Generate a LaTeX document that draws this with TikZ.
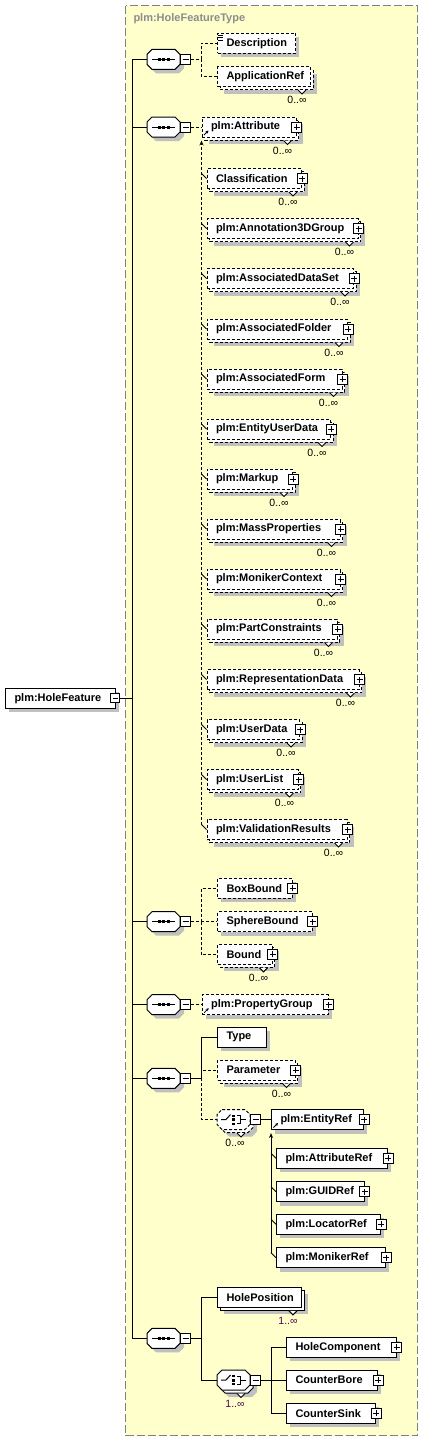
\documentclass[tikz,border=0pt]{standalone}
\usepackage{fontspec}
\setmainfont{Liberation Sans}
\usetikzlibrary{calc,arrows.meta}
\definecolor{bgy}{RGB}{255,255,204}
\definecolor{shc}{RGB}{192,192,192}
\definecolor{frm}{RGB}{128,128,128}
\definecolor{ttl}{RGB}{140,140,140}
\definecolor{occp}{RGB}{80,0,80}
\tikzset{
  dsh/.style={dash pattern=on 3pt off 2pt},
  elem/.style={draw,fill=white,anchor=west,minimum height=20pt,inner xsep=9pt,inner ysep=0pt,align=left,font=\fontsize{11}{13}\selectfont\bfseries},
  octn/.style={minimum width=33pt,minimum height=20pt,inner sep=0pt},
  minusbox/.style={draw,solid,fill=white,minimum size=10pt,inner sep=0pt,
    path picture={\draw ([xshift=2pt]path picture bounding box.west) -- ([xshift=-2pt]path picture bounding box.east);}},
  plusbox/.style={draw,solid,fill=white,minimum size=10pt,inner sep=0pt,
    path picture={\draw ([xshift=2pt]path picture bounding box.west) -- ([xshift=-2pt]path picture bounding box.east);
                  \draw ([yshift=2pt]path picture bounding box.south) -- ([yshift=-2pt]path picture bounding box.north);}},
  occ/.style={font=\fontsize{10.5}{12}\selectfont,inner sep=0pt},
  reftip/.style={line width=0.8pt,-{Stealth[length=3pt,width=3pt]}},
  subtip/.style={-{Stealth[length=5pt,width=4pt]}}
}
% octagon path: center x, center y, options
\newcommand{\octo}[3]{\path[#3] (#1-11.5,#2-10) -- ++(23,0) -- ++(5,5) -- ++(0,10) -- ++(-5,5) -- ++(-23,0) -- ++(-5,-5) -- ++(0,-10) -- cycle;}
% sequence compositor
\newcommand{\SEQ}[3]{%
  \octo{#2+4}{#3+4}{fill=shc}%
  \octo{#2}{#3}{draw,fill=white}%
  \node[octn] (#1) at (#2,#3) {};%
  \node[minusbox] (#1m) at (#2+22,#3) {};%
  \draw (#2-11.5,#3) -- (#2+11.5,#3);%
  \foreach \d in {-4.5,0,4.5} \fill (#2+\d-1.5,#3-1.5) rectangle (#2+\d+1.5,#3+1.5);%
}
% choice compositor (multi): name, xc, yc, style, occ text, occ colour
\newcommand{\CHO}[6]{%
  \octo{#2+7}{#3+7}{fill=shc}%
  \octo{#2+3}{#3+3}{draw,fill=white,#4}%
  \octo{#2}{#3}{draw,fill=white,#4}%
  \node[octn] (#1) at (#2,#3) {};%
  \node[minusbox] (#1m) at (#2+22,#3) {};%
  \draw (#2-12.5,#3) -- (#2-7.5,#3) -- (#2-3,#3-5);%
  \fill (#2-2,#3-5) rectangle (#2+1,#3-3);%
  \fill (#2-2,#3-1.5) rectangle (#2+1,#3+1.5);%
  \fill (#2-2,#3+3) rectangle (#2+1,#3+5);%
  \draw (#2+3,#3-4) -- (#2+6.5,#3-4) -- (#2+6.5,#3+4) -- (#2+3,#3+4);%
  \draw (#2+6.5,#3) -- (#2+12.5,#3);%
  \draw[fill=white] ($(#1.south)+(3.5,3)$) -- ++(4,4) -- ++(4,-4);%
  \node[occ,text=#6] (#1o) at ($(#1.south)+(1.5,13)$) {#5};%
}
% element node
\newcommand{\EL}[6]{%
  \pgfmathsetmacro\elw{#3-(#2)}%
  \pgfmathsetmacro\eltw{\elw-18}%
  \node[elem,#6,minimum width=\elw pt,text width=\eltw pt] (#1) at (#2,#4) {\mbox{#5}};}
\newcommand{\ELs}[6]{%
  \fill[shc] (#2+4,#4-6) rectangle (#3+4,#4+14);%
  \EL{#1}{#2}{#3}{#4}{#5}{#6}}
\newcommand{\ELm}[6]{%
  \fill[shc] (#2+7,#4-3) rectangle (#3+7,#4+17);%
  \draw[fill=white,#6] (#2+3,#4-7) rectangle (#3+3,#4+13);%
  \EL{#1}{#2}{#3}{#4}{#5}{#6}}
\newcommand{\PL}[1]{\node[plusbox] (#1p) at (#1.east) {};}
\newcommand{\OC}[3][black]{%
  \draw[fill=white] ($(#2.south east)+(-13,3)$) -- ++(4,4) -- ++(4,-4);%
  \node[occ,text=#1] (#2o) at ($(#2.south east)+(-14,13)$) {#3};}
\newcommand{\RF}[1]{\draw[reftip] ($(#1.south west)+(2.5,-2.5)$) -- ++(4.5,-4.5);}

\begin{document}
\begin{tikzpicture}[x=1pt,y=-1pt,line width=1pt]
\useasboundingbox (0,0) rectangle (423,1441);
\fill[white] (0,0) rectangle (423,1441);
% frame of the complex type
\draw[frm,line width=1.5pt,dash pattern=on 8pt off 3pt,fill=bgy] (125.5,5.5) rectangle (417.5,1435.5);
\node[anchor=west,inner sep=0pt,text=ttl,font=\fontsize{11}{13}\selectfont\bfseries] (title) at (133,19) {plm:HoleFeatureType};

% root
\ELs{root}{5}{115.3}{698.3}{plm:HoleFeature}{}
\node[minusbox,minimum size=9pt] (rootm) at (115.3,698.3) {};

% sequences
\SEQ{s1}{163.5}{59.3}
\SEQ{s2}{163.5}{127}
\SEQ{s3}{163.5}{921.7}
\SEQ{s4}{163.5}{1004.7}
\SEQ{s5}{163.5}{1078.3}
\SEQ{s6}{163.5}{1338.3}

% group 1
\ELs{desc}{217}{295}{43.3}{Description}{dsh}
\draw[line width=0.8pt] (218,35) -- (223,35) (218,37.5) -- (223,37.5) (218,40) -- (223,40);
\ELm{appref}{217}{310}{76.5}{ApplicationRef}{dsh}
\OC{appref}{0..∞}

% group 2
\ELm{attr}{201.5}{295.5}{127}{plm:Attribute}{dsh}
\PL{attr}\RF{attr}\OC{attr}{0..∞}
\ELm{classif}{206.5}{301}{178.5}{Classification}{dsh}
\PL{classif}\OC{classif}{0..∞}
\ELm{annot}{206.5}{357.5}{228.5}{plm:Annotation3DGroup}{dsh}
\PL{annot}\OC{annot}{0..∞}
\ELm{assocds}{206.5}{353}{278.5}{plm:AssociatedDataSet}{dsh}
\PL{assocds}\OC{assocds}{0..∞}
\ELm{assocfolder}{206.5}{347}{329}{plm:AssociatedFolder}{dsh}
\PL{assocfolder}\OC{assocfolder}{0..∞}
\ELm{assocform}{206.5}{341.5}{379}{plm:AssociatedForm}{dsh}
\PL{assocform}\OC{assocform}{0..∞}
\ELm{eud}{206.5}{330}{429}{plm:EntityUserData}{dsh}
\PL{eud}\OC{eud}{0..∞}
\ELm{markup}{206.5}{292}{479}{plm:Markup}{dsh}
\PL{markup}\OC{markup}{0..∞}
\ELm{massprop}{206.5}{339.5}{529}{plm:MassProperties}{dsh}
\PL{massprop}\OC{massprop}{0..∞}
\ELm{monctx}{206.5}{339.5}{579}{plm:MonikerContext}{dsh}
\PL{monctx}\OC{monctx}{0..∞}
\ELm{partcon}{206.5}{336.5}{629}{plm:PartConstraints}{dsh}
\PL{partcon}\OC{partcon}{0..∞}
\ELm{repdata}{206.5}{358.5}{679.5}{plm:RepresentationData}{dsh}
\PL{repdata}\OC{repdata}{0..∞}
\ELm{userdata}{206.5}{299}{729.5}{plm:UserData}{dsh}
\PL{userdata}\OC{userdata}{0..∞}
\ELm{userlist}{206.5}{297.5}{779.5}{plm:UserList}{dsh}
\PL{userlist}\OC{userlist}{0..∞}
\ELm{valres}{206.5}{346.5}{829.5}{plm:ValidationResults}{dsh}
\PL{valres}\OC{valres}{0..∞}

% group 3
\ELs{boxbound}{217}{291.5}{888.3}{BoxBound}{dsh}
\PL{boxbound}
\ELs{spherebound}{217}{311.5}{921.7}{SphereBound}{dsh}
\PL{spherebound}
\ELm{bound}{217}{271.5}{954.3}{Bound}{dsh}
\PL{bound}\OC{bound}{0..∞}

% group 4
\ELs{propgroup}{201.7}{327.5}{1004.7}{plm:PropertyGroup}{dsh}
\PL{propgroup}\RF{propgroup}

% group 5
\ELs{type}{217}{266}{1037.3}{Type}{}
\ELm{param}{217}{294.5}{1070}{Parameter}{dsh}
\PL{param}\OC{param}{0..∞}
\CHO{ch1}{233.5}{1119.5}{dsh}{0..∞}{black}
\ELs{entref}{271}{363.3}{1119.5}{plm:EntityRef}{}
\PL{entref}\RF{entref}
\ELs{attrref}{276}{387}{1158.3}{plm:AttributeRef}{}
\PL{attrref}
\ELs{guidref}{276}{363.5}{1191.7}{plm:GUIDRef}{}
\PL{guidref}
\ELs{locref}{276}{380.3}{1224.3}{plm:LocatorRef}{}
\PL{locref}
\ELs{monref}{276}{385}{1257.7}{plm:MonikerRef}{}
\PL{monref}

% group 6
\ELm{holepos}{217}{301}{1297.3}{HolePosition}{}
\OC[occp]{holepos}{1..∞}
\CHO{ch2}{233.5}{1380}{}{1..∞}{occp}
\ELs{holecomp}{286}{395.7}{1347.3}{HoleComponent}{}
\PL{holecomp}
\ELs{ctrbore}{286}{377}{1380}{CounterBore}{}
\PL{ctrbore}
\ELs{ctrsink}{286}{375.3}{1413.3}{CounterSink}{}
\PL{ctrsink}

% ---------- connectors ----------
\coordinate (spT) at (132,59.3);
\coordinate (spB) at (132,1338.3);
\draw (spT) -- (spB);
\draw (rootm.east) -- (rootm.east -| spT);
\foreach \s in {s1,s2,s3,s4,s5,s6} \draw (\s.west) -- (\s.west -| spT);

\coordinate (j1) at (201,59.3);
\draw[dsh] (s1m.east) -- (j1) |- (desc.west);
\draw[dsh] (j1) |- (appref.west);

\draw[dsh] (s2m.east) -- (attr.west);
\draw[dsh,subtip] ($(valres.west)+(-5,-5)$) -- ($(attr.south west)+(0,3)$);
\foreach \n in {classif,annot,assocds,assocfolder,assocform,eud,markup,massprop,monctx,partcon,repdata,userdata,userlist,valres}
  \draw[line width=0.8pt] ($(\n.west)+(-5,-5)$) -- (\n.west);

\coordinate (j3) at (201,921.7);
\draw[dsh] (s3m.east) -- (j3) |- (boxbound.west);
\draw[dsh] (j3) -- (spherebound.west);
\draw[dsh] (j3) |- (bound.west);

\draw[dsh] (s4m.east) -- (propgroup.west);

\coordinate (j5) at (201,1078.3);
\draw (s5m.east) -- (j5) |- (type.west);
\draw[dsh] (j5) |- (param.west);
\draw[dsh] (j5) |- (ch1.west);
\draw (ch1m.east) -- (entref.west);
\draw[subtip] ($(monref.west)+(-5,-5)$) -- ($(entref.south west)+(0,3)$);
\foreach \n in {attrref,guidref,locref,monref}
  \draw[line width=0.8pt] ($(\n.west)+(-5,-5)$) -- (\n.west);

\coordinate (j6) at (201,1338.3);
\draw (s6m.east) -- (j6) |- (holepos.west);
\draw (j6) |- (ch2.west);
\coordinate (k6) at (271.7,1380);
\draw (ch2m.east) -- (k6) |- (holecomp.west);
\draw (k6) |- (ctrsink.west);
\draw (k6) -- (ctrbore.west);
\end{tikzpicture}
\end{document}
